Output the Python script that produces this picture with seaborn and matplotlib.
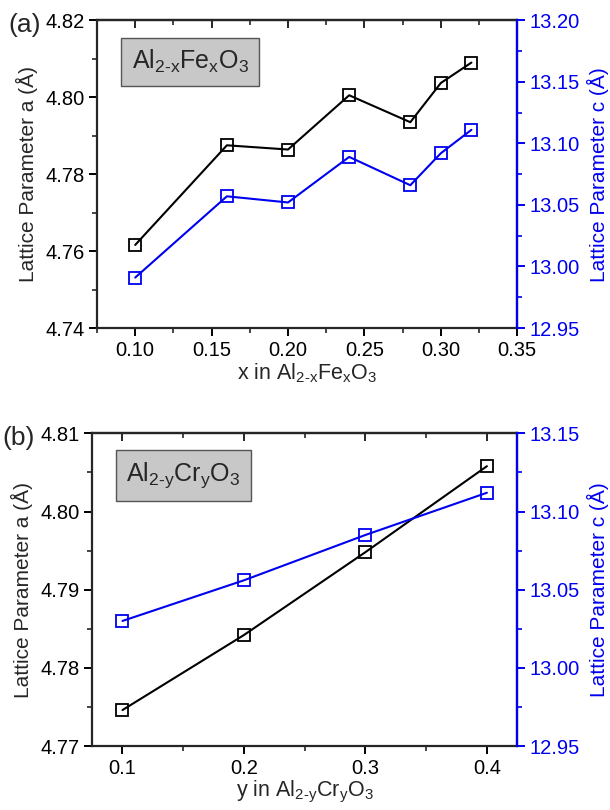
import matplotlib
matplotlib.use("Agg")
import matplotlib.pyplot as plt
import seaborn as sns
import numpy as np
import pandas as pd
from matplotlib.ticker import MultipleLocator, FormatStrFormatter

# ---- data ----
fe_x = [0.10, 0.16, 0.20, 0.24, 0.28, 0.30, 0.32]
fe_a = [4.7616, 4.7875, 4.7864, 4.8005, 4.7935, 4.8037, 4.8090]
fe_c = [12.991, 13.057, 13.052, 13.089, 13.066, 13.092, 13.111]

cr_y = [0.1, 0.2, 0.3, 0.4]
cr_a = [4.7746, 4.7842, 4.7948, 4.8058]
cr_c = [13.030, 13.056, 13.085, 13.112]

sns.set_style("ticks")
plt.rcParams['font.family'] = ['Liberation Sans', 'DejaVu Sans']
plt.rcParams['mathtext.fontset'] = 'custom'
plt.rcParams['mathtext.rm'] = 'Liberation Sans'
plt.rcParams['mathtext.it'] = 'Liberation Sans'
plt.rcParams['mathtext.default'] = 'regular'

BLUE = '#0000f0'
fig = plt.figure(figsize=(6.1, 8.1), dpi=100)

def panel(rect, xs, a, c, xlim, ylim_a, ylim_c, xmaj, xmin, amaj, cmaj, xfmt, afmt,
          xlabel, boxtxt, plabel, boxx):
    ax = fig.add_axes(rect)
    df = pd.DataFrame({'x': xs, 'a': a, 'c': c})
    sns.lineplot(data=df, x='x', y='a', ax=ax, color='black', marker='s', markersize=8,
                 markerfacecolor='none', markeredgecolor='black', markeredgewidth=1.3, linewidth=1.5)
    ax2 = ax.twinx()
    sns.lineplot(data=df, x='x', y='c', ax=ax2, color=BLUE, marker='s', markersize=8,
                 markerfacecolor='none', markeredgecolor=BLUE, markeredgewidth=1.3, linewidth=1.5)
    ax.set_xlim(*xlim)
    ax.set_ylim(*ylim_a)
    ax2.set_ylim(*ylim_c)
    ax.xaxis.set_major_locator(MultipleLocator(xmaj))
    ax.xaxis.set_minor_locator(MultipleLocator(xmin))
    ax.yaxis.set_major_locator(MultipleLocator(amaj))
    ax.yaxis.set_minor_locator(MultipleLocator(amaj / 2))
    ax2.yaxis.set_major_locator(MultipleLocator(cmaj))
    ax2.yaxis.set_minor_locator(MultipleLocator(cmaj / 2))
    ax.xaxis.set_major_formatter(FormatStrFormatter(xfmt))
    ax.yaxis.set_major_formatter(FormatStrFormatter(afmt))
    ax2.yaxis.set_major_formatter(FormatStrFormatter('%.2f'))
    for s in ax.spines.values():
        s.set_linewidth(1.6)
        s.set_visible(True)
    ax2.spines['right'].set_color(BLUE)
    ax2.spines['right'].set_linewidth(1.6)
    ax2.spines['top'].set_visible(False)
    ax2.spines['left'].set_visible(False)
    ax2.spines['bottom'].set_visible(False)
    ax.tick_params(axis='both', which='major', direction='out', length=6, width=1.4,
                   labelsize=14.5, colors='black', pad=3)
    ax.tick_params(axis='both', which='minor', direction='out', length=3.5, width=1.2)
    ax.tick_params(right=False, top=False, which='both')
    ax2.tick_params(axis='y', which='major', direction='out', length=6, width=1.4,
                    labelsize=14.5, colors=BLUE, pad=3)
    ax2.tick_params(axis='y', which='minor', direction='out', length=3.5, width=1.2, colors=BLUE)
    sec = ax.secondary_xaxis('top')
    sec.xaxis.set_major_locator(MultipleLocator(xmaj))
    sec.xaxis.set_minor_locator(MultipleLocator(xmin))
    sec.tick_params(which='major', direction='in', length=6, width=1.4, labeltop=False)
    sec.tick_params(which='minor', direction='in', length=3.5, width=1.2)
    sec.spines['top'].set_linewidth(1.6)
    ax.set_xlabel(xlabel, fontsize=15.5, labelpad=1)
    ax.set_ylabel('Lattice Parameter a (Å)', fontsize=15, labelpad=5)
    ax2.set_ylabel('Lattice Parameter c (Å)', fontsize=15, color=BLUE, labelpad=5)
    ax.text(boxx, 0.865, boxtxt, transform=ax.transAxes, fontsize=18, ha='left', va='center',
            bbox=dict(boxstyle='square,pad=0.42', facecolor='#c8c8c8', edgecolor='#555555', linewidth=1.0))
    ax.text(-0.21, 0.985, plabel, transform=ax.transAxes, fontsize=19, ha='left', va='center')
    ax.grid(False)
    ax2.grid(False)
    return ax

panel([0.159, 0.595, 0.689, 0.380], fe_x, fe_a, fe_c, (0.075, 0.35), (4.74, 4.82), (12.95, 13.20),
      0.05, 0.025, 0.02, 0.05, '%.2f', '%.2f',
      r'x in Al$_{2\text{-}x}$Fe$_x$O$_3$', r'Al$_{2\text{-}x}$Fe$_x$O$_3$', '(a)', 0.083)
panel([0.151, 0.079, 0.697, 0.386], cr_y, cr_a, cr_c, (0.075, 0.425), (4.77, 4.81), (12.95, 13.15),
      0.1, 0.05, 0.01, 0.05, '%.1f', '%.2f',
      r'y in Al$_{2\text{-}y}$Cr$_y$O$_3$', r'Al$_{2\text{-}y}$Cr$_y$O$_3$', '(b)', 0.08)

fig.savefig('out.png', dpi=100)
